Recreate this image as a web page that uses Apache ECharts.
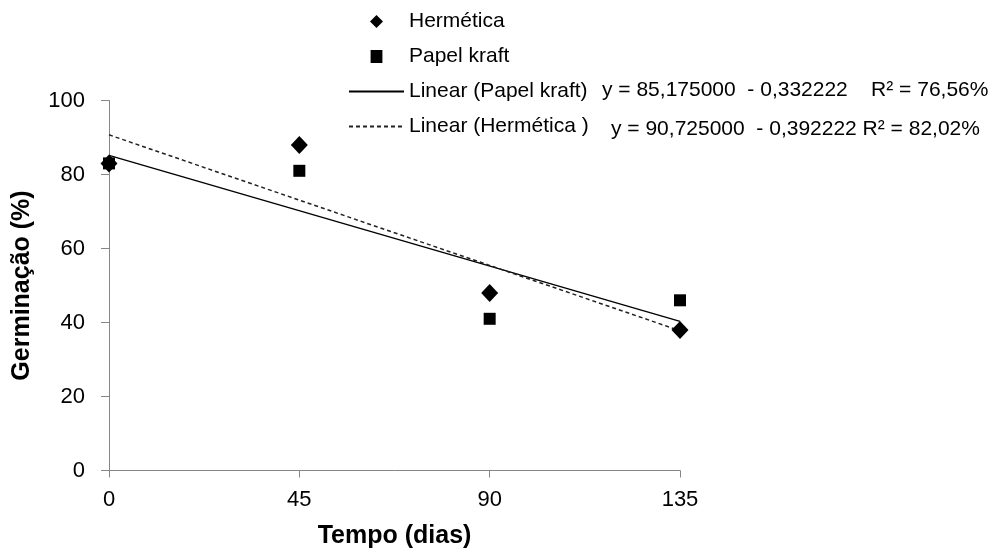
<!DOCTYPE html>
<html>
<head>
<meta charset="utf-8">
<script src="https://cdn.jsdelivr.net/npm/echarts@6/dist/echarts.min.js"></script>
<style>
  html, body { margin: 0; padding: 0; background: #fff; }
  #chart { width: 1000px; height: 554px; }
</style>
</head>
<body>
<div id="chart"></div>
<script>
// dias de armazenamento
const tempo = [0, 45, 90, 135];
// germinação (%)
const hermetica = [83, 88, 48, 38];
const papelKraft = [83, 81, 41, 46];
const regKraft = [85.175, -0.332222];
const regHermetica = [90.725, -0.392222];
const eqKraft = "y = 85,175000  - 0,332222    R² = 76,56%";
const eqHermetica = "y = 90,725000  - 0,392222 R² = 82,02%";

const FONT = "'Liberation Sans', Arial, sans-serif";

function pontos(xs, ys) {
  return xs.map((x, i) => [x, ys[i]]);
}
function reta(reg) {
  const x0 = tempo[0];
  const x1 = tempo[tempo.length - 1];
  return [[x0, reg[0] + reg[1] * x0], [x1, reg[0] + reg[1] * x1]];
}

const semSimbolo = { color: "rgba(0,0,0,0)", borderWidth: 0, opacity: 0 };

const chart = echarts.init(document.getElementById("chart"));
const option = {
  backgroundColor: "#fff",
  animation: false,
  grid: { left: 109, right: 320, top: 100.5, bottom: 83.5 },
  legend: {
    orient: "vertical",
    left: 343,
    top: 6,
    itemWidth: 55,
    itemHeight: 13,
    itemGap: 14,
    textStyle: { fontFamily: FONT, fontSize: 21, color: "#000" },
    data: [
      { name: "Hermética", icon: "path://M6,0L12,6L6,12L0,6Z" },
      { name: "Papel kraft", icon: "path://M0,0L10,0L10,11L0,11Z" },
      { name: "Linear (Papel kraft)", itemStyle: semSimbolo },
      { name: "Linear (Hermética )", itemStyle: semSimbolo },
    ],
  },
  xAxis: {
    type: "value",
    min: 0,
    max: 135,
    interval: 45,
    name: "Tempo (dias)",
    nameLocation: "middle",
    nameGap: 53,
    nameTextStyle: { fontFamily: FONT, fontSize: 25, fontWeight: "bold", color: "#000" },
    axisLine: { lineStyle: { color: "#868686" } },
    axisTick: { show: true, length: 7, lineStyle: { color: "#868686" } },
    axisLabel: { margin: 18, fontFamily: FONT, fontSize: 22, color: "#000" },
    splitLine: { show: false },
  },
  yAxis: {
    type: "value",
    min: 0,
    max: 100,
    interval: 20,
    name: "Germinação (%)",
    nameLocation: "middle",
    nameGap: 74,
    nameTextStyle: { fontFamily: FONT, fontSize: 25, fontWeight: "bold", color: "#000" },
    axisLine: { show: true, lineStyle: { color: "#868686" } },
    axisTick: { show: true, length: 8, lineStyle: { color: "#868686" } },
    axisLabel: { margin: 24, fontFamily: FONT, fontSize: 22, color: "#000" },
    splitLine: { show: false },
  },
  graphic: [
    {
      type: "text",
      left: 602,
      top: 80,
      style: { text: eqKraft, font: "21px " + FONT, fill: "#000" },
    },
    {
      type: "text",
      left: 611,
      top: 119,
      style: { text: eqHermetica, font: "21px " + FONT, fill: "#000" },
    },
  ],
  series: [
    {
      name: "Linear (Papel kraft)",
      type: "line",
      data: reta(regKraft),
      symbol: "none",
      lineStyle: { color: "#000", width: 1.4, type: "solid" },
      itemStyle: { color: "#000" },
      z: 2,
    },
    {
      name: "Linear (Hermética )",
      type: "line",
      data: reta(regHermetica),
      symbol: "none",
      lineStyle: { color: "#222", width: 1.5, type: [4, 3] },
      itemStyle: { color: "#222" },
      z: 2,
    },
    {
      name: "Hermética",
      type: "scatter",
      data: pontos(tempo, hermetica),
      symbol: "diamond",
      symbolSize: [17, 18],
      itemStyle: { color: "#000", opacity: 1 },
      clip: false,
      z: 3,
    },
    {
      name: "Papel kraft",
      type: "scatter",
      data: pontos(tempo, papelKraft),
      symbol: "rect",
      symbolSize: 12,
      itemStyle: { color: "#000", opacity: 1 },
      clip: false,
      z: 3,
    },
  ],
};
chart.setOption(option);
</script>
</body>
</html>
